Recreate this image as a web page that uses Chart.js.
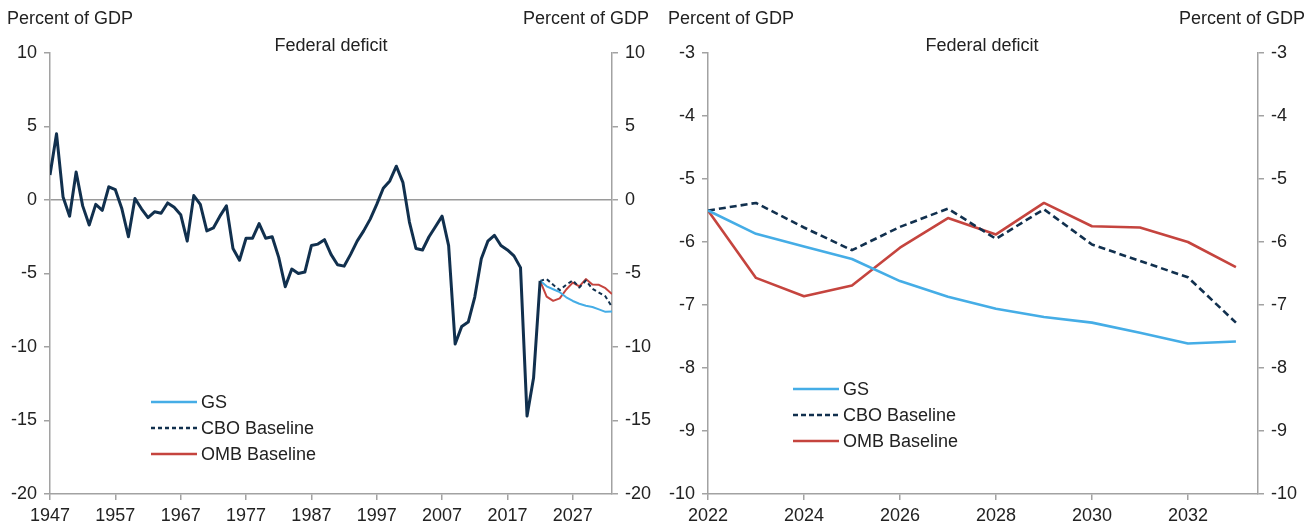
<!DOCTYPE html>
<html>
<head>
<meta charset="utf-8">
<script src="https://cdn.jsdelivr.net/npm/chart.js@4.4.0/dist/chart.umd.min.js"></script>
<style>
  body { margin: 0; background: #fff; font-family: "Liberation Sans", Arial, sans-serif; color: #222; }
  .panel { position: absolute; top: 0; height: 527px; }
  .panel canvas { position: absolute; left: 0; top: 0; }
  .txt { position: absolute; font-size: 18px; line-height: 20px; white-space: nowrap; }
</style>
</head>
<body>

<div class="panel" style="left:0; width:660px;">
  <canvas id="longRun" width="660" height="527"></canvas>
  <div class="txt" style="left:7px; top:8px;">Percent of GDP</div>
  <div class="txt" style="right:11px; top:8px;">Percent of GDP</div>
  <div class="txt" style="left:331px; top:35px; transform:translateX(-50%);">Federal deficit</div>
</div>

<div class="panel" style="left:660px; width:649px;">
  <canvas id="outlook" width="649" height="527"></canvas>
  <div class="txt" style="left:8px; top:8px;">Percent of GDP</div>
  <div class="txt" style="right:4px; top:8px;">Percent of GDP</div>
  <div class="txt" style="left:322px; top:35px; transform:translateX(-50%);">Federal deficit</div>
</div>

<script>
// fiscal years with actual surplus(+)/deficit(-), percent of GDP
const histYears = [];
for (let yr = 1947; yr <= 2022; yr++) histYears.push(yr);
const histDeficit = [
   1.7,  4.5,  0.2, -1.1,  1.9, -0.4, -1.7, -0.3, -0.7,  0.9,   // 1947-56
   0.7, -0.6, -2.5,  0.1, -0.6, -1.2, -0.8, -0.9, -0.2, -0.5,   // 1957-66
  -1.0, -2.8,  0.3, -0.3, -2.1, -1.9, -1.1, -0.4, -3.3, -4.1,   // 1967-76
  -2.6, -2.6, -1.6, -2.6, -2.5, -3.9, -5.9, -4.7, -5.0, -4.9,   // 1977-86
  -3.1, -3.0, -2.7, -3.7, -4.4, -4.5, -3.7, -2.8, -2.1, -1.3,   // 1987-96
  -0.3,  0.8,  1.3,  2.3,  1.2, -1.5, -3.3, -3.4, -2.5, -1.8,   // 1997-2006
  -1.1, -3.1, -9.8, -8.6, -8.3, -6.6, -4.0, -2.8, -2.4, -3.1,   // 2007-16
  -3.4, -3.8, -4.6, -14.7, -12.1, -5.5                           // 2017-22
];

// projections
const projYears = [2022, 2023, 2024, 2025, 2026, 2027, 2028, 2029, 2030, 2031, 2032, 2033];
const gsProj  = [-5.5, -5.87, -6.07, -6.27, -6.62, -6.87, -7.06, -7.19, -7.28, -7.44, -7.61, -7.58];
const cboProj = [-5.5, -5.38, -5.77, -6.13, -5.76, -5.47, -5.95, -5.48, -6.04, -6.30, -6.56, -7.28];
const ombProj = [-5.5, -6.57, -6.86, -6.69, -6.09, -5.62, -5.88, -5.38, -5.75, -5.77, -6.00, -6.40];

// axis ticks
const longTicks  = [1947, 1957, 1967, 1977, 1987, 1997, 2007, 2017, 2027];
const shortTicks = [2022, 2024, 2026, 2028, 2030, 2032];

const NAVY = '#11304e', SKY = '#45ade6', RED = '#c5443e';
const AXIS = '#a2a2a2', INK = '#222';
const FONT = { family: '"Liberation Sans", Arial, sans-serif', size: 18 };

function pts(xs, ys) {
  return xs.map((x, i) => ({ x: x, y: ys[i] }));
}

// legend drawn inside the plot area, one row per dataset
const insetLegend = {
  id: 'insetLegend',
  afterDraw(chart, args, opts) {
    const ctx = chart.ctx;
    ctx.save();
    ctx.font = FONT.size + 'px ' + FONT.family;
    ctx.textBaseline = 'middle';
    let row = 0;
    chart.data.datasets.forEach(ds => {
      if (ds.legend === false) return;
      const y = opts.top + row * opts.rowGap;
      ctx.strokeStyle = ds.borderColor;
      ctx.lineWidth = opts.lineWidth;
      ctx.setLineDash(ds.borderDash ? opts.dash : []);
      ctx.beginPath();
      ctx.moveTo(opts.left, y);
      ctx.lineTo(opts.left + opts.sample, y);
      ctx.stroke();
      ctx.setLineDash([]);
      ctx.fillStyle = INK;
      ctx.fillText(ds.label, opts.left + opts.sample + 4, y + 1);
      row++;
    });
    ctx.restore();
  }
};

function yAxis(side, cfg) {
  return {
    position: side,
    min: cfg.yMin,
    max: cfg.yMax,
    ticks: { stepSize: cfg.yStep, padding: 7, color: INK, font: FONT },
    grid: {
      drawOnChartArea: side === 'left',
      color: ctx => (cfg.zeroLine && ctx.tick && ctx.tick.value === 0) ? '#9a9a9a' : 'rgba(0,0,0,0)',
      lineWidth: 1.5,
      tickColor: AXIS,
      tickLength: 6
    },
    border: { display: true, color: AXIS, width: 1.5 },
    afterFit: s => { s.width = side === 'left' ? cfg.leftW : cfg.rightW; }
  };
}

function makeChart(id, cfg) {
  return new Chart(document.getElementById(id), {
    type: 'line',
    data: { datasets: cfg.datasets },
    plugins: [insetLegend],
    options: {
      responsive: false,
      animation: false,
      layout: { padding: { top: 53, left: 0, right: 0, bottom: 0 } },
      elements: {
        point: { radius: 0 },
        line: { tension: 0, borderJoinStyle: 'round', borderCapStyle: 'butt' }
      },
      scales: {
        x: {
          type: 'linear',
          min: cfg.xMin,
          max: cfg.xMax,
          afterBuildTicks: s => { s.ticks = cfg.xTicks.map(v => ({ value: v })); },
          ticks: { autoSkip: false, maxRotation: 0, padding: 5, color: INK, font: FONT,
                   callback: v => String(v) },
          grid: { drawOnChartArea: false, tickColor: AXIS, tickLength: 6, lineWidth: 1.5 },
          border: { display: true, color: AXIS, width: 1.5 },
          afterFit: s => { s.height = 33; }
        },
        y: yAxis('left', cfg),
        y1: yAxis('right', cfg)
      },
      plugins: {
        legend: { display: false },
        tooltip: { enabled: false },
        insetLegend: cfg.legend
      }
    }
  });
}

// first dataset is painted last, so the actual series sits on top
makeChart('longRun', {
  xMin: 1947, xMax: 2033, xTicks: longTicks,
  yMin: -20, yMax: 10, yStep: 5, zeroLine: true,
  leftW: 50, rightW: 48,
  legend: { left: 151, top: 402, rowGap: 26, sample: 46, lineWidth: 2.5, dash: [4, 3] },
  datasets: [
    { label: 'Actual', legend: false, data: pts(histYears, histDeficit), borderColor: NAVY, borderWidth: 3 },
    { label: 'GS', data: pts(projYears, gsProj), borderColor: SKY, borderWidth: 2 },
    { label: 'CBO Baseline', data: pts(projYears, cboProj), borderColor: NAVY, borderWidth: 2, borderDash: [4, 3] },
    { label: 'OMB Baseline', data: pts(projYears, ombProj), borderColor: RED, borderWidth: 2 }
  ]
});

makeChart('outlook', {
  xMin: 2022, xMax: 2033.46, xTicks: shortTicks,
  yMin: -10, yMax: -3, yStep: 1, zeroLine: false,
  leftW: 48, rightW: 51,
  legend: { left: 133, top: 389, rowGap: 26, sample: 46, lineWidth: 2.5, dash: [5, 3] },
  datasets: [
    { label: 'GS', data: pts(projYears, gsProj), borderColor: SKY, borderWidth: 2.6 },
    { label: 'CBO Baseline', data: pts(projYears, cboProj), borderColor: NAVY, borderWidth: 2.6, borderDash: [7, 4] },
    { label: 'OMB Baseline', data: pts(projYears, ombProj), borderColor: RED, borderWidth: 2.6 }
  ]
});
</script>
</body>
</html>
